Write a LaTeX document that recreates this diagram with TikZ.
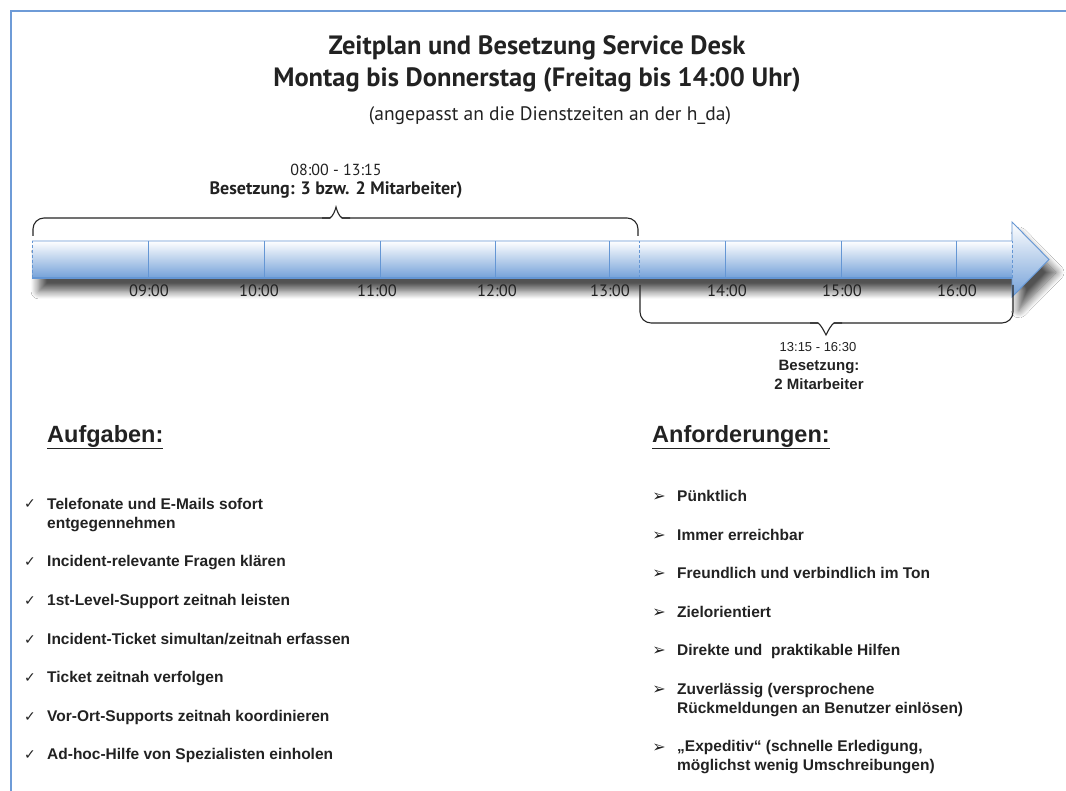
\documentclass[tikz,border=0pt]{standalone}
\usepackage{fontspec}
\setmainfont{PT Sans}
\newfontfamily\arialf{Liberation Sans}
\newfontfamily\dejavuf{DejaVu Sans}
\usetikzlibrary{shadows.blur}
\definecolor{frameblue}{RGB}{110,155,215}
\definecolor{arrowblue}{RGB}{100,150,212}
\definecolor{txt}{RGB}{34,34,34}
\tikzset{
  titletext/.style={font=\fontsize{26.5}{32}\selectfont\bfseries, text=txt, align=center, inner sep=0pt},
  subtext/.style={font=\fontsize{19.5}{22}\selectfont, text=txt, inner sep=0pt},
  timelabel/.style={font=\fontsize{16.5}{20}\selectfont, text=txt, inner sep=0pt},
  bracetext/.style={font=\fontsize{16}{20}\selectfont, text=txt, align=center, inner sep=0pt},
  arialtext/.style={font=\arialf\fontsize{13}{19}\selectfont, text=txt, align=center, inner sep=0pt},
  heading/.style={font=\arialf\fontsize{23.5}{28}\selectfont\bfseries, text=txt, anchor=west, inner sep=0pt},
  item/.style={font=\arialf\fontsize{15.5}{19.5}\selectfont\bfseries, text=txt, anchor=base west, align=left, inner sep=0pt},
  bullet/.style={font=\dejavuf\fontsize{14}{16}\selectfont, text=txt, inner sep=0pt, anchor=base},
  abullet/.style={font=\dejavuf\fontsize{16}{16}\selectfont, text=txt, inner sep=0pt, anchor=base},
  divider/.style={arrowblue, line width=0.8pt},
  dashdiv/.style={arrowblue, line width=0.8pt, dash pattern=on 3pt off 2pt},
  bracket/.style={black!85, line width=1.1pt, rounded corners=11pt},
}
\begin{document}
\begin{tikzpicture}[x=1pt,y=1pt]
\useasboundingbox (0,0) rectangle (1066,791);
\fill[white] (0,0) rectangle (1066,791);
\draw[frameblue, line width=1.3pt] (11,0) -- (11,780) -- (1066,780);

% title
\node[titletext] (title) at (537,727) {Zeitplan und Besetzung Service Desk\\Montag bis Donnerstag (Freitag bis 14:00 Uhr)};
\node[subtext] (sub) at (550,675) {(angepasst an die Dienstzeiten an der h\_da)};

% arrow shadow
\path[blur shadow={shadow xshift=7pt, shadow yshift=-13pt, shadow blur radius=8pt, shadow blur steps=12, shadow opacity=68}]
  (32,513) -- (1012,513) -- (1012,494) -- (1049,531.5) -- (1012,569) -- (1012,550) -- (32,550) -- cycle;
% arrow body and head
\shade[top color=white, middle color=arrowblue!30, bottom color=arrowblue!90] (32,513) rectangle (1012,550);
\shade[top color=white, middle color=arrowblue!30, bottom color=arrowblue!90] (1012,494) -- (1049,531.5) -- (1012,569) -- cycle;
\draw[arrowblue, line width=0.9pt] (32,550) -- (1012,550) -- (1012,569) -- (1049,531.5) -- (1012,494) -- (1012,513);
\draw[arrowblue, line width=1.3pt] (32,513) -- (1012,513);
\foreach \x in {148,264,380,495,609,725,841,956} \draw[divider] (\x,513) -- (\x,550);
\foreach \x in {32,639,1012} \draw[dashdiv] (\x,513) -- (\x,550);

% time labels
\node[timelabel] (t9)  at (149,500) {09:00};
\node[timelabel] (t10) at (259,500) {10:00};
\node[timelabel] (t11) at (377,500) {11:00};
\node[timelabel] (t12) at (497,500) {12:00};
\node[timelabel] (t13) at (610,500) {13:00};
\node[timelabel] (t14) at (727,500) {14:00};
\node[timelabel] (t15) at (842,500) {15:00};
\node[timelabel] (t16) at (957,500) {16:00};

% top bracket
\draw[bracket] (33,555) -- (33,573) -- (330,573);
\draw[black!85, line width=1.1pt] (322,573) -- (330,573) .. controls (333,575) and (335,580) .. (336,584) .. controls (337,580) and (339,575) .. (342,573) -- (350,573);
\draw[bracket] (342,573) -- (638,573) -- (638,555);
\node[bracetext] (topa) at (336,621) {08:00 - 13:15};
\node[bracetext, font=\fontsize{18}{20}\selectfont\bfseries] (topb) at (336,601) {Besetzung: 3 bzw. 2 Mitarbeiter)};

% bottom bracket
\draw[bracket] (640,506) -- (640,468) -- (818,468);
\draw[black!85, line width=1.1pt] (810,468) -- (818,468) .. controls (821,466) and (824,460) .. (826,456) .. controls (828,460) and (831,466) .. (834,468) -- (842,468);
\draw[bracket] (834,468) -- (1013,468) -- (1013,506);
\node[arialtext] (bota) at (818,444) {13:15 - 16:30};
\node[arialtext, font=\arialf\fontsize{15}{19}\selectfont\bfseries] (botb) at (819,416) {Besetzung:\\2 Mitarbeiter};

% left list
\node[heading] (aufg) at (47,354) {\underline{Aufgaben:}};
\node[bullet] (c1) at (30,282.5) {✓};
\node[item, anchor=north west] (a1) at (47,293) {Telefonate und E-Mails sofort\\entgegennehmen};
\node[bullet] (c2) at (30,224.5) {✓};
\node[item] (a2) at (47,224.5) {Incident-relevante Fragen klären};
\node[bullet] (c3) at (30,185.5) {✓};
\node[item] (a3) at (47,185.5) {1st-Level-Support zeitnah leisten};
\node[bullet] (c4) at (30,146.5) {✓};
\node[item] (a4) at (47,146.5) {Incident-Ticket simultan/zeitnah erfassen};
\node[bullet] (c5) at (30,108.5) {✓};
\node[item] (a5) at (47,108.5) {Ticket zeitnah verfolgen};
\node[bullet] (c6) at (30,69.5) {✓};
\node[item] (a6) at (47,69.5) {Vor-Ort-Supports zeitnah koordinieren};
\node[bullet] (c7) at (30,31.5) {✓};
\node[item] (a7) at (47,31.5) {Ad-hoc-Hilfe von Spezialisten einholen};

% right list
\node[heading] (anf) at (652,354) {\underline{Anforderungen:}};
\node[abullet] (r1b) at (659,289.5) {➢};
\node[item] (r1) at (677,289.5) {Pünktlich};
\node[abullet] (r2b) at (659,250.5) {➢};
\node[item] (r2) at (677,250.5) {Immer erreichbar};
\node[abullet] (r3b) at (659,212.5) {➢};
\node[item] (r3) at (677,212.5) {Freundlich und verbindlich im Ton};
\node[abullet] (r4b) at (659,173.5) {➢};
\node[item] (r4) at (677,173.5) {Zielorientiert};
\node[abullet] (r5b) at (659,135.5) {➢};
\node[item] (r5) at (677,135.5) {Direkte und\ \ praktikable Hilfen};
\node[abullet] (r6b) at (659,96.5) {➢};
\node[item, anchor=north west] (r6) at (677,108) {Zuverlässig (versprochene\\Rückmeldungen an Benutzer einlösen)};
\node[abullet] (r7b) at (659,38.5) {➢};
\node[item, anchor=north west] (r7) at (677,51) {„Expeditiv“ (schnelle Erledigung,\\möglichst wenig Umschreibungen)};
\end{tikzpicture}
\end{document}
